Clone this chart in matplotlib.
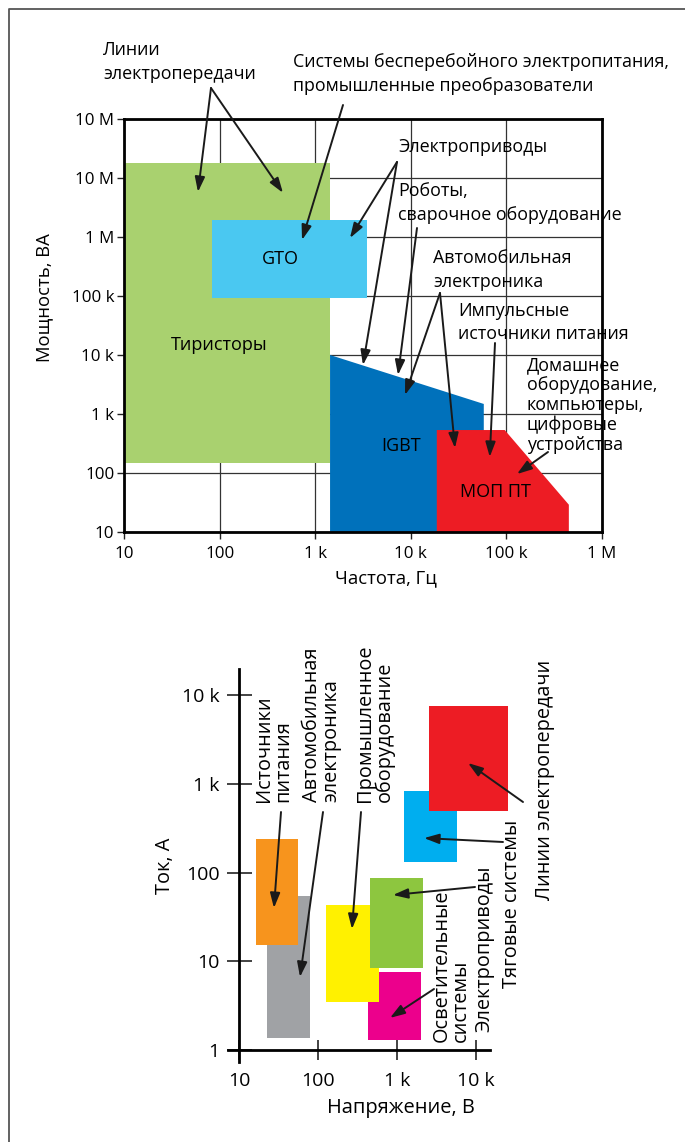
import matplotlib
matplotlib.use("Agg")
import matplotlib.pyplot as plt
from matplotlib.lines import Line2D

plt.rcParams['font.family'] = ['Open Sans', 'DejaVu Sans']

W, H = 685, 1142

# --- top chart: power vs frequency ---
freq_ticks = [10, 100, 1e3, 1e4, 1e5, 1e6]
freq_labels = ["10", "100", "1 k", "10 k", "100 k", "1 M"]
power_ticks = [10, 100, 1e3, 1e4, 1e5, 1e6, 1e7, 1e8]
power_labels = ["10", "100", "1 k", "10 k", "100 k", "1 M", "10 M", "10 M"]

thyristor_f = [10, 1430, 1430, 10]
thyristor_p = [148, 148, 1.8e7, 1.8e7]
gto_f = [83, 3500, 3500, 83]
gto_p = [9.3e4, 9.3e4, 1.95e6, 1.95e6]
igbt_f = [1430, 1430, 58000, 58000]
igbt_p = [10, 1e4, 1480, 10]
mosfet_f = [18700, 18700, 96000, 450000, 450000]
mosfet_p = [10, 535, 535, 29, 10]

# --- bottom chart: current vs voltage ---
volt_ticks = [10, 100, 1e3, 1e4]
volt_labels = ["10", "100", "1 k", "10 k"]
amp_ticks = [1, 10, 100, 1e3, 1e4]
amp_labels = ["1", "10", "100", "1 k", "10 k"]

# (v_lo, v_hi, i_lo, i_hi)
psu_box = [16.4, 56, 15.2, 240]
auto_box = [22.6, 79, 1.36, 54.6]
industry_box = [126, 590, 3.5, 43]
light_box = [427, 2000, 1.3, 7.6]
drives_box = [456, 2130, 8.4, 87]
traction_box = [1230, 5750, 132, 832]
grid_box = [2540, 25400, 492, 7580]


def fp(x, y):
    """image pixel (top-left origin) -> figure fraction"""
    return (x / W, 1 - y / H)


fig = plt.figure(figsize=(W / 100, H / 100), dpi=100)
fig.add_artist(Line2D([8.5 / W, 8.5 / W, 1], [0, 1 - 9 / H, 1 - 9 / H],
                      transform=fig.transFigure, color='#555555', lw=1.3))

# ================= top chart =================
ax = fig.add_axes([124 / W, 1 - 532 / H, 478 / W, 413 / H])
ax.set_xscale('log')
ax.set_yscale('log')
ax.set_xlim(10, 1e6)
ax.set_ylim(10, 1e8)
ax.set_xticks(freq_ticks, freq_labels)
ax.set_yticks(power_ticks, power_labels)
ax.minorticks_off()
ax.tick_params(direction='out', length=5, width=1, labelsize=12.2, color='#222222')
ax.tick_params(axis='x', pad=5)
ax.tick_params(axis='y', pad=2)
ax.grid(True, color='#333333', lw=0.9)
ax.set_axisbelow(True)
for s in ax.spines.values():
    s.set_linewidth(2)

ax.fill(thyristor_f, thyristor_p, color='#a9d16f', lw=0, zorder=2)
ax.fill(gto_f, gto_p, color='#4ac8f1', lw=0, zorder=2)
ax.fill(igbt_f, igbt_p, color='#0071bb', lw=0, zorder=2)
ax.fill(mosfet_f, mosfet_p, color='#ed1c24', lw=0, zorder=2)

ax.text(100, 1.48e4, "Тиристоры", fontsize=13, ha='center', va='center', zorder=3)
ax.text(428, 4.2e5, "GTO", fontsize=13, ha='center', va='center', zorder=3)
ax.text(7900, 287, "IGBT", fontsize=13, ha='center', va='center', zorder=3)
ax.text(76000, 47.6, "МОП ПТ", fontsize=13, ha='center', va='center', zorder=3)

fig.text(*fp(386, 578), "Частота, Гц", fontsize=13.3, ha='center', va='center')
fig.text(*fp(44, 298), "Мощность, ВА", fontsize=13.3, ha='center', va='center',
         rotation=90)

top_notes = [
    ((103, 41), "Линии\nэлектропередачи", 1.4),
    ((293, 53), "Системы бесперебойного электропитания,\nпромышленные преобразователи", 1.4),
    ((398, 138), "Электроприводы", 1.4),
    ((398, 182), "Роботы,\nсварочное оборудование", 1.4),
    ((433, 249), "Автомобильная\nэлектроника", 1.4),
    ((458, 302), "Импульсные\nисточники питания", 1.35),
    ((527, 356), "Домашнее\nоборудование,\nкомпьютеры,\nцифровые\nустройства", 1.13),
]
for (x, y), txt, ls in top_notes:
    fig.text(*fp(x, y), txt, fontsize=12.9, ha='left', va='top', linespacing=ls)

arrow = dict(arrowstyle='-|>,head_length=0.9,head_width=0.3', color='#1a1a1a',
             lw=1.4, shrinkA=0, shrinkB=0)
top_arrows = [
    ((211, 88), (59.4, 5.8e6)),
    ((211, 88), (460, 5.6e6)),
    ((343, 105), (728, 8.9e5)),
    ((397, 162), (2310, 9.6e5)),
    ((397, 162), (3160, 6760)),
    ((417, 228), (7350, 4580)),
    ((440, 293), (8690, 2100)),
    ((440, 293), (29000, 265)),
    ((495, 343), (67000, 187)),
    ((548, 452), (129000, 96)),
]
for start, tip in top_arrows:
    ax.annotate('', xy=tip, xycoords='data', xytext=fp(*start),
                textcoords='figure fraction', arrowprops=arrow,
                annotation_clip=False, zorder=5)

# ================= bottom chart =================
bx = fig.add_axes([239 / W, 1 - 1050 / H, 276.5 / W, 381.4 / H])
bx.set_xscale('log')
bx.set_yscale('log')
bx.set_xlim(10, 10 ** 4.5)
bx.set_ylim(1, 10 ** 4.3)
bx.set_xticks(volt_ticks, volt_labels)
bx.set_yticks(amp_ticks, amp_labels)
bx.minorticks_off()
bx.tick_params(direction='inout', width=1.2, labelsize=14, color='#222222')
bx.tick_params(axis='x', length=14, pad=9)
bx.tick_params(axis='y', length=18, pad=5)
bx.spines['top'].set_visible(False)
bx.spines['right'].set_visible(False)
bx.spines['left'].set_linewidth(2)
bx.spines['bottom'].set_linewidth(2)
# axes cross slightly past the origin
bx.spines['bottom'].set_bounds(10 ** 0.86, 15000)
bx.spines['left'].set_bounds(10 ** -0.13, 10 ** 4.3)

box_colors = [
    (auto_box, '#a0a2a5'),
    (psu_box, '#f7941d'),
    (light_box, '#ec008c'),
    (industry_box, '#fff100'),
    (drives_box, '#8dc63f'),
    (traction_box, '#00aeef'),
    (grid_box, '#ed1c24'),
]
for (v0, v1, i0, i1), c in box_colors:
    bx.fill([v0, v1, v1, v0], [i0, i0, i1, i1], color=c, lw=0, zorder=2,
            clip_on=False)

fig.text(*fp(401, 1108), "Напряжение, В", fontsize=14.4, ha='center', va='center')
fig.text(*fp(165, 866), "Ток, А", fontsize=14.4, ha='center', va='center', rotation=90)

# vertical notes: (center x, bottom y)
bottom_notes = [
    ((274, 802), "Источники\nпитания"),
    ((322, 802), "Автомобильная\nэлектроника"),
    ((375, 802), "Промышленное\nоборудование"),
    ((545, 900), "Линии электропередачи"),
    ((512, 988), "Тяговые системы"),
    ((484, 1032), "Электроприводы"),
    ((451, 1042), "Осветительные\nсистемы"),
]
for (x, y), txt in bottom_notes:
    fig.text(*fp(x, y), txt, fontsize=14.3, rotation=90, rotation_mode='anchor',
             ha='left', va='center', linespacing=0.95)

bottom_arrows = [
    ((281, 812), (27.7, 39.9)),
    ((323, 812), (59.2, 6.65)),
    ((361, 812), (269, 23.1)),
    ((523, 802), (7920, 1720)),
    ((503, 842), (2200, 245)),
    ((475, 887), (889, 55.9)),
    ((434, 989), (815, 2.3)),
]
for start, tip in bottom_arrows:
    bx.annotate('', xy=tip, xycoords='data', xytext=fp(*start),
                textcoords='figure fraction', arrowprops=arrow,
                annotation_clip=False, zorder=5)

fig.savefig("out.png", dpi=100)
